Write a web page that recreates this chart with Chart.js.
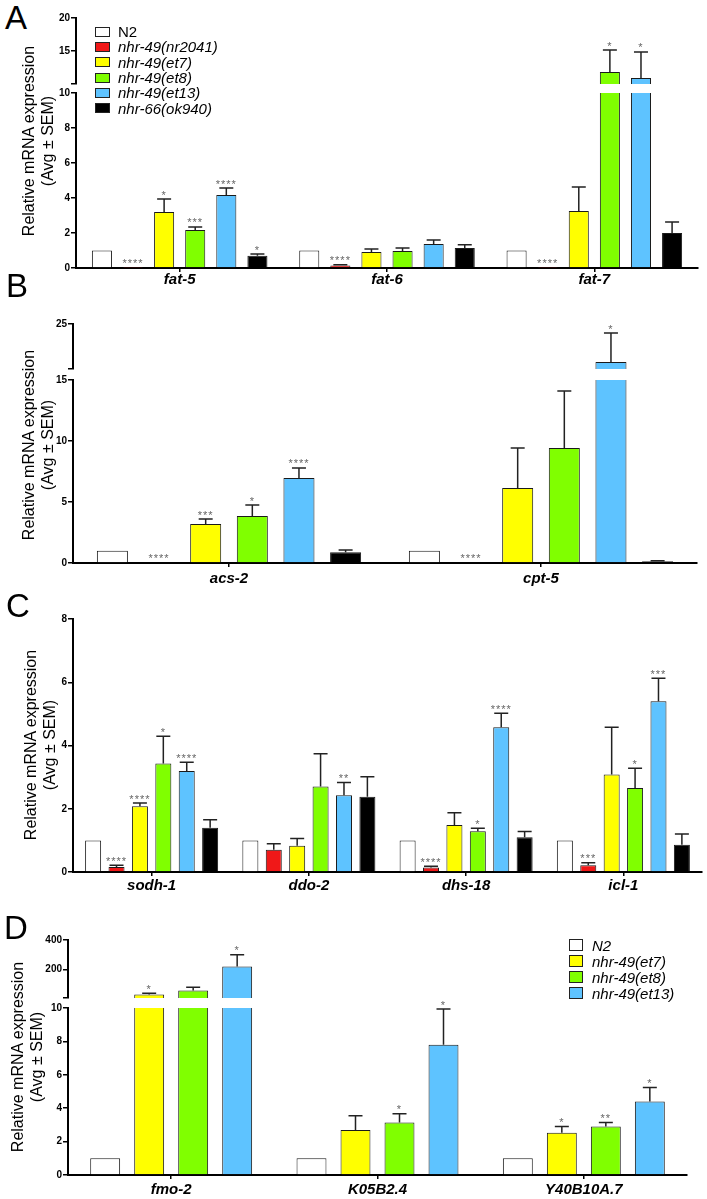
<!DOCTYPE html>
<html>
<head>
<meta charset="utf-8">
<title>nhr-49 target genes</title>
<script src="https://cdn.jsdelivr.net/npm/chart.js@4.4.1/dist/chart.umd.min.js"></script>
<style>
  body { margin: 0; background: #fff; }
  #figure { position: relative; width: 707px; height: 1199px; overflow: hidden; font-family: "Liberation Sans", Arial, sans-serif; color: #000; }
  #figure canvas { position: absolute; }
  .panel-letter { position: absolute; font-size: 33px; line-height: 33px; }
  .y-title { position: absolute; width: 260px; height: 38px; margin-left: -130px; margin-top: -19px; transform: rotate(-90deg); text-align: center; font-size: 16px; line-height: 19px; white-space: nowrap; }
  .legend { position: absolute; font-size: 15px; font-style: italic; z-index: 2; }
  .legend-row { display: flex; align-items: center; white-space: nowrap; }
  .legend-row.upright { font-style: normal; }
  .legend-swatch { box-sizing: border-box; border: 1px solid #222; }
</style>
</head>
<body>
<div id="figure"></div>
<script>
// strains
const STRAINS_A = ["N2", "nhr-49(nr2041)", "nhr-49(et7)", "nhr-49(et8)", "nhr-49(et13)", "nhr-66(ok940)"];
const STRAINS_D = ["N2", "nhr-49(et7)", "nhr-49(et8)", "nhr-49(et13)"];

// A - fat genes
const genesA = ["fat-5", "fat-6", "fat-7"];
const meanA_N2 = [1, 1, 1];
const meanA_nr2041 = [0.01, 0.15, 0.01];
const meanA_et7 = [3.2, 0.91, 3.26];
const meanA_et8 = [2.17, 0.97, 11.8];
const meanA_et13 = [4.17, 1.37, 10.9];
const meanA_ok940 = [0.7, 1.14, 2.0];
const semA_N2 = [0, 0, 0];
const semA_nr2041 = [0, 0.03, 0];
const semA_et7 = [0.74, 0.17, 1.37];
const semA_et8 = [0.18, 0.17, 3.35];
const semA_et13 = [0.4, 0.23, 3.95];
const semA_ok940 = [0.1, 0.19, 0.63];
const starsA_N2 = ["", "", ""];
const starsA_nr2041 = ["****", "****", "****"];
const starsA_et7 = ["*", "", ""];
const starsA_et8 = ["***", "", "*"];
const starsA_et13 = ["****", "", "*"];
const starsA_ok940 = ["*", "", ""];
const rangeA_upper = [10, 20];
const ticksA_upper = [10, 15, 20];
const rangeA_lower = [0, 10];
const ticksA_lower = [0, 2, 4, 6, 8, 10];

// B - beta oxidation
const genesB = ["acs-2", "cpt-5"];
const meanB_N2 = [1, 1];
const meanB_nr2041 = [0.05, 0.05];
const meanB_et7 = [3.2, 6.15];
const meanB_et8 = [3.85, 9.43];
const meanB_et13 = [6.97, 16.55];
const meanB_ok940 = [0.88, 0.15];
const semB_N2 = [0, 0];
const semB_nr2041 = [0, 0];
const semB_et7 = [0.4, 3.28];
const semB_et8 = [0.9, 4.67];
const semB_et13 = [0.82, 6.45];
const semB_ok940 = [0.18, 0.03];
const starsB_N2 = ["", ""];
const starsB_nr2041 = ["****", "****"];
const starsB_et7 = ["***", ""];
const starsB_et8 = ["*", ""];
const starsB_et13 = ["****", "*"];
const starsB_ok940 = ["", ""];
const rangeB_upper = [15, 25];
const ticksB_upper = [15, 25];
const rangeB_lower = [0, 15];
const ticksB_lower = [0, 5, 10, 15];

// C - other targets
const genesC = ["sodh-1", "ddo-2", "dhs-18", "icl-1"];
const meanC_N2 = [1, 1, 1, 1];
const meanC_nr2041 = [0.16, 0.7, 0.14, 0.21];
const meanC_et7 = [2.08, 0.83, 1.49, 3.08];
const meanC_et8 = [3.43, 2.7, 1.29, 2.66];
const meanC_et13 = [3.19, 2.43, 4.58, 5.4];
const meanC_ok940 = [1.4, 2.38, 1.1, 0.86];
const semC_N2 = [0, 0, 0, 0];
const semC_nr2041 = [0.05, 0.19, 0.04, 0.08];
const semC_et7 = [0.1, 0.23, 0.38, 1.5];
const semC_et8 = [0.86, 1.04, 0.09, 0.62];
const semC_et13 = [0.28, 0.4, 0.44, 0.73];
const semC_ok940 = [0.25, 0.63, 0.18, 0.34];
const starsC_N2 = ["", "", "", ""];
const starsC_nr2041 = ["****", "", "****", "***"];
const starsC_et7 = ["****", "", "", ""];
const starsC_et8 = ["*", "", "*", "*"];
const starsC_et13 = ["****", "**", "****", "***"];
const starsC_ok940 = ["", "", "", ""];
const rangeC = [0, 8];
const ticksC = [0, 2, 4, 6, 8];

// D - gain of function targets
const genesD = ["fmo-2", "K05B2.4", "Y40B10A.7"];
const meanD_N2 = [1, 1, 1];
const meanD_et7 = [33, 2.7, 2.53];
const meanD_et8 = [60, 3.15, 2.9];
const meanD_et13 = [222, 7.8, 4.4];
const semD_N2 = [0, 0, 0];
const semD_et7 = [9, 0.85, 0.37];
const semD_et8 = [22, 0.52, 0.25];
const semD_et13 = [78, 2.14, 0.84];
const starsD_N2 = ["", "", ""];
const starsD_et7 = ["*", "", "*"];
const starsD_et8 = ["", "*", "**"];
const starsD_et13 = ["*", "*", "*"];
const rangeD_upper = [10, 400];
const ticksD_upper = [10, 200, 400];
const rangeD_lower = [0, 10];
const ticksD_lower = [0, 2, 4, 6, 8, 10];

const STRAIN_COLORS = {
  "N2": "#ffffff",
  "nhr-49(nr2041)": "#f01818",
  "nhr-49(et7)": "#ffff00",
  "nhr-49(et8)": "#80ff00",
  "nhr-49(et13)": "#5ec3ff",
  "nhr-66(ok940)": "#000000",
};

const FONT = "'Liberation Sans', Arial, sans-serif";
const Y_AXIS_W = 40;
const PAD_T = 10;
const PAD_R = 6;
const PAD_B = 8;
const X_AXIS_H = 30;

const figure = document.getElementById("figure");

function buildSeries(names, means, sems, stars) {
  return names.map((name, i) => ({ name, mean: means[i], sem: sems[i], stars: stars[i] }));
}

const errorBarPlugin = {
  id: "errorBars",
  afterDatasetsDraw(chart) {
    const { ctx } = chart;
    const yScale = chart.scales.y;
    ctx.save();
    chart.data.datasets.forEach((ds, i) => {
      const meta = chart.getDatasetMeta(i);
      meta.data.forEach((bar, j) => {
        const v = ds.data[j];
        if (v < yScale.min || v > yScale.max) return;
        const sem = ds.sem[j] || 0;
        const yTop = yScale.getPixelForValue(v + sem);
        if (sem > 0) {
          ctx.strokeStyle = "#222";
          ctx.lineWidth = 1.5;
          ctx.beginPath();
          ctx.moveTo(bar.x, bar.y);
          ctx.lineTo(bar.x, yTop);
          ctx.moveTo(bar.x - 7, yTop);
          ctx.lineTo(bar.x + 7, yTop);
          ctx.stroke();
        }
        if (ds.stars[j]) {
          ctx.fillStyle = "#666";
          ctx.font = `11px ${FONT}`;
          ctx.letterSpacing = "1px";
          ctx.textAlign = "center";
          ctx.textBaseline = "alphabetic";
          ctx.fillText(ds.stars[j], bar.x, Math.min(yTop, bar.y) - 0.5);
        }
      });
    });
    ctx.restore();
  },
};

function makeBarChart(area, labels, series, range, tickValues, look) {
  const canvas = document.createElement("canvas");
  const w = area.right - area.left + Y_AXIS_W + PAD_R;
  const h = area.bottom - area.top + PAD_T + (look.showX ? X_AXIS_H : PAD_B);
  canvas.width = w;
  canvas.height = h;
  canvas.style.left = `${area.left - Y_AXIS_W}px`;
  canvas.style.top = `${area.top - PAD_T}px`;
  figure.appendChild(canvas);

  const [min, max] = range;
  new Chart(canvas, {
    type: "bar",
    data: {
      labels,
      datasets: series.map((s) => ({
        label: s.name,
        data: s.mean,
        sem: s.sem,
        stars: s.stars,
        backgroundColor: STRAIN_COLORS[s.name],
        borderColor: "#1a1a1a",
        borderWidth: 1,
        borderSkipped: "start",
        clip: 0,
        categoryPercentage: look.catPct,
        barPercentage: look.barPct,
      })),
    },
    options: {
      responsive: false,
      animation: false,
      devicePixelRatio: 1,
      layout: { padding: { top: PAD_T, right: PAD_R, bottom: look.showX ? 0 : PAD_B, left: 0 } },
      plugins: { legend: { display: false }, tooltip: { enabled: false } },
      scales: {
        x: {
          display: look.showX,
          offset: true,
          grid: { display: true, drawOnChartArea: false, offset: false, tickLength: 4, color: "#000", lineWidth: 1.5 },
          border: { display: true, color: "#000", width: 2 },
          ticks: {
            autoSkip: false,
            maxRotation: 0,
            color: "#000",
            padding: look.xPad,
            font: { family: FONT, size: 15, style: "italic", weight: "bold" },
          },
          afterFit: (scale) => { scale.height = look.showX ? X_AXIS_H : 0; },
        },
        y: {
          min,
          max,
          grid: { display: true, drawOnChartArea: false, tickLength: 5, color: "#000", lineWidth: 1.5 },
          border: { display: true, color: "#000", width: 2 },
          ticks: {
            color: "#000",
            padding: 1,
            font: { family: FONT, size: 10, weight: "bold" },
            callback: (value) => (look.hideTick === value ? "" : value),
          },
          afterBuildTicks: (scale) => { scale.ticks = tickValues.map((value) => ({ value })); },
          afterFit: (scale) => { scale.width = Y_AXIS_W; },
        },
      },
    },
    plugins: [errorBarPlugin],
  });
}

function addLetter(text, left, top) {
  const el = document.createElement("div");
  el.className = "panel-letter";
  el.style.left = `${left}px`;
  el.style.top = `${top}px`;
  el.textContent = text;
  figure.appendChild(el);
}

function addYTitle(cx, cy) {
  const el = document.createElement("div");
  el.className = "y-title";
  el.style.left = `${cx}px`;
  el.style.top = `${cy}px`;
  el.innerHTML = "Relative mRNA expression<br>(Avg ± SEM)";
  figure.appendChild(el);
}

function addLegend(names, left, top, rowH, swW, swH, gap, uprightFirst) {
  const box = document.createElement("div");
  box.className = "legend";
  box.style.left = `${left}px`;
  box.style.top = `${top}px`;
  names.forEach((name, i) => {
    const row = document.createElement("div");
    row.className = `legend-row ${uprightFirst && i === 0 ? "upright" : ""}`;
    row.style.height = `${rowH}px`;
    row.innerHTML = `<span class="legend-swatch" style="width:${swW}px;height:${swH}px;margin-right:${gap}px;background:${STRAIN_COLORS[name]}"></span><span>${name}</span>`;
    box.appendChild(row);
  });
  figure.appendChild(box);
}

// panel A
const seriesA = buildSeries(STRAINS_A,
  [meanA_N2, meanA_nr2041, meanA_et7, meanA_et8, meanA_et13, meanA_ok940],
  [semA_N2, semA_nr2041, semA_et7, semA_et8, semA_et13, semA_ok940],
  [starsA_N2, starsA_nr2041, starsA_et7, starsA_et8, starsA_et13, starsA_ok940]);
const lookA = { catPct: 0.9, barPct: 0.645, xPad: -1 };
makeBarChart({ left: 76, right: 698, top: 18, bottom: 84 }, genesA, seriesA, rangeA_upper, ticksA_upper, { ...lookA, showX: false, hideTick: 10 });
makeBarChart({ left: 76, right: 698, top: 93, bottom: 268 }, genesA, seriesA, rangeA_lower, ticksA_lower, { ...lookA, showX: true });

// panel B
const seriesB = buildSeries(STRAINS_A,
  [meanB_N2, meanB_nr2041, meanB_et7, meanB_et8, meanB_et13, meanB_ok940],
  [semB_N2, semB_nr2041, semB_et7, semB_et8, semB_et13, semB_ok940],
  [starsB_N2, starsB_nr2041, starsB_et7, starsB_et8, starsB_et13, starsB_ok940]);
const lookB = { catPct: 0.897, barPct: 0.665, xPad: 3 };
makeBarChart({ left: 73, right: 697, top: 324, bottom: 369 }, genesB, seriesB, rangeB_upper, ticksB_upper, { ...lookB, showX: false, hideTick: 15 });
makeBarChart({ left: 73, right: 697, top: 380, bottom: 563 }, genesB, seriesB, rangeB_lower, ticksB_lower, { ...lookB, showX: true });

// panel C
const seriesC = buildSeries(STRAINS_A,
  [meanC_N2, meanC_nr2041, meanC_et7, meanC_et8, meanC_et13, meanC_ok940],
  [semC_N2, semC_nr2041, semC_et7, semC_et8, semC_et13, semC_ok940],
  [starsC_N2, starsC_nr2041, starsC_et7, starsC_et8, starsC_et13, starsC_ok940]);
makeBarChart({ left: 73, right: 702, top: 619, bottom: 872 }, genesC, seriesC, rangeC, ticksC, { catPct: 0.893, barPct: 0.684, xPad: 1, showX: true });

// panel D
const seriesD = buildSeries(STRAINS_D,
  [meanD_N2, meanD_et7, meanD_et8, meanD_et13],
  [semD_N2, semD_et7, semD_et8, semD_et13],
  [starsD_N2, starsD_et7, starsD_et8, starsD_et13]);
const lookD = { catPct: 0.853, barPct: 0.68, xPad: 2 };
makeBarChart({ left: 68, right: 687, top: 940, bottom: 998 }, genesD, seriesD, rangeD_upper, ticksD_upper, { ...lookD, showX: false, hideTick: 10 });
makeBarChart({ left: 68, right: 687, top: 1008, bottom: 1175 }, genesD, seriesD, rangeD_lower, ticksD_lower, { ...lookD, showX: true });

// labels and legends
addLetter("A", 5, 1);
addLetter("B", 6, 269);
addLetter("C", 6, 589);
addLetter("D", 4, 911);
addYTitle(37.5, 141);
addYTitle(38, 445);
addYTitle(40, 745);
addYTitle(27, 1057);
addLegend(STRAINS_A, 95, 24, 15.3, 15, 10, 8, true);
addLegend(STRAINS_D, 569, 937, 16, 14, 12, 9, false);
</script>
</body>
</html>
